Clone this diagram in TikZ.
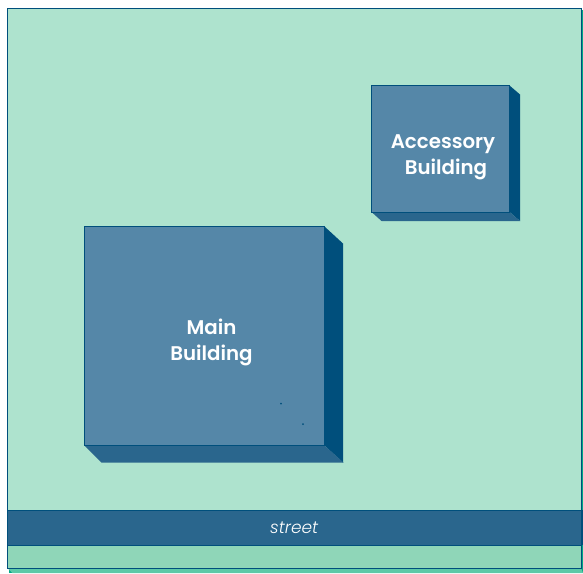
\documentclass[tikz,border=0pt]{standalone}
\usepackage{fontspec}
\setmainfont[BoldFont={Poppins SemiBold},ItalicFont={Poppins Light Italic}]{Poppins}
\definecolor{lotgreen}{HTML}{AEE3CE}
\definecolor{stripgreen}{HTML}{8FD6B8}
\definecolor{lotbottom}{HTML}{5CC9A7}
\definecolor{lotside}{HTML}{00A886}
\definecolor{frontblue}{HTML}{5587A8}
\definecolor{sideblue}{HTML}{004F7C}
\definecolor{bottomblue}{HTML}{2A668D}
\tikzset{
  slab/.style={draw=sideblue, line width=1pt, inner sep=0pt, outer sep=0pt},
  buildinglabel/.style={text=white, font=\fontsize{19.8pt}{26pt}\selectfont\bfseries, align=center},
}
\begin{document}
\begin{tikzpicture}[x=1pt, y=-1pt]
        \useasboundingbox (0,0) rectangle (583,573);

        % Lot, its edges first
        \fill[lotside] (9,10) -- (583,10) -- (583,573) -- (9,573) -- cycle;
        \fill[lotbottom] (7.5,568) -- (12.5,573) -- (583,573) -- (581,568) -- cycle;
        \node[slab, fill=lotgreen, minimum width=573.5pt, minimum height=559.5pt] (lot) at (294.25,288.25) {};

        % Street and the strip below it
        \node[slab, fill=stripgreen, minimum width=573.5pt, minimum height=23pt] (strip) at (294.25,556.5) {};
        \node[slab, fill=bottomblue, minimum width=573.5pt, minimum height=35pt, text=white, font=\fontsize{17pt}{20pt}\selectfont\itshape] (street) at (294.25,527.5) {street};
        \fill[sideblue] (street.north east) rectangle (583,545);

        % Main building
        \node[slab, fill=frontblue, minimum width=240pt, minimum height=219pt] (mainfront) at (204.5,336) {};
        \fill[sideblue] (mainfront.north east) -- ++(18.5,17) -- ++(0,219) -- (mainfront.south east) -- cycle;
        \fill[bottomblue] (mainfront.south west) -- ++(17,17) -- ++(242,0) -- (mainfront.south east) -- cycle;
        \draw[sideblue, line width=1pt] (mainfront.south west) -- (mainfront.south east) -- (mainfront.north east);
        \node[buildinglabel] (mainlabel) at (211.5,342) {Main\\Building};

        % Accessory building
        \node[slab, fill=frontblue, minimum width=138pt, minimum height=126.5pt] (accfront) at (440.5,148.75) {};
        \fill[sideblue] (accfront.north east) -- ++(10.5,9) -- ++(0,126.5) -- (accfront.south east) -- cycle;
        \fill[bottomblue] (accfront.south west) -- ++(10,9) -- ++(138.5,0) -- (accfront.south east) -- cycle;
        \draw[sideblue, line width=1pt] (accfront.south west) -- (accfront.south east) -- (accfront.north east);
        \node[buildinglabel] (acclabel) at (443,157) {Accessory\\\hspace{6pt}Building};

        % Two specks on the main building
        \fill[sideblue] (281,403.5) circle (1pt);
        \fill[sideblue] (303,424) circle (1pt);
    \end{tikzpicture}
\end{document}
